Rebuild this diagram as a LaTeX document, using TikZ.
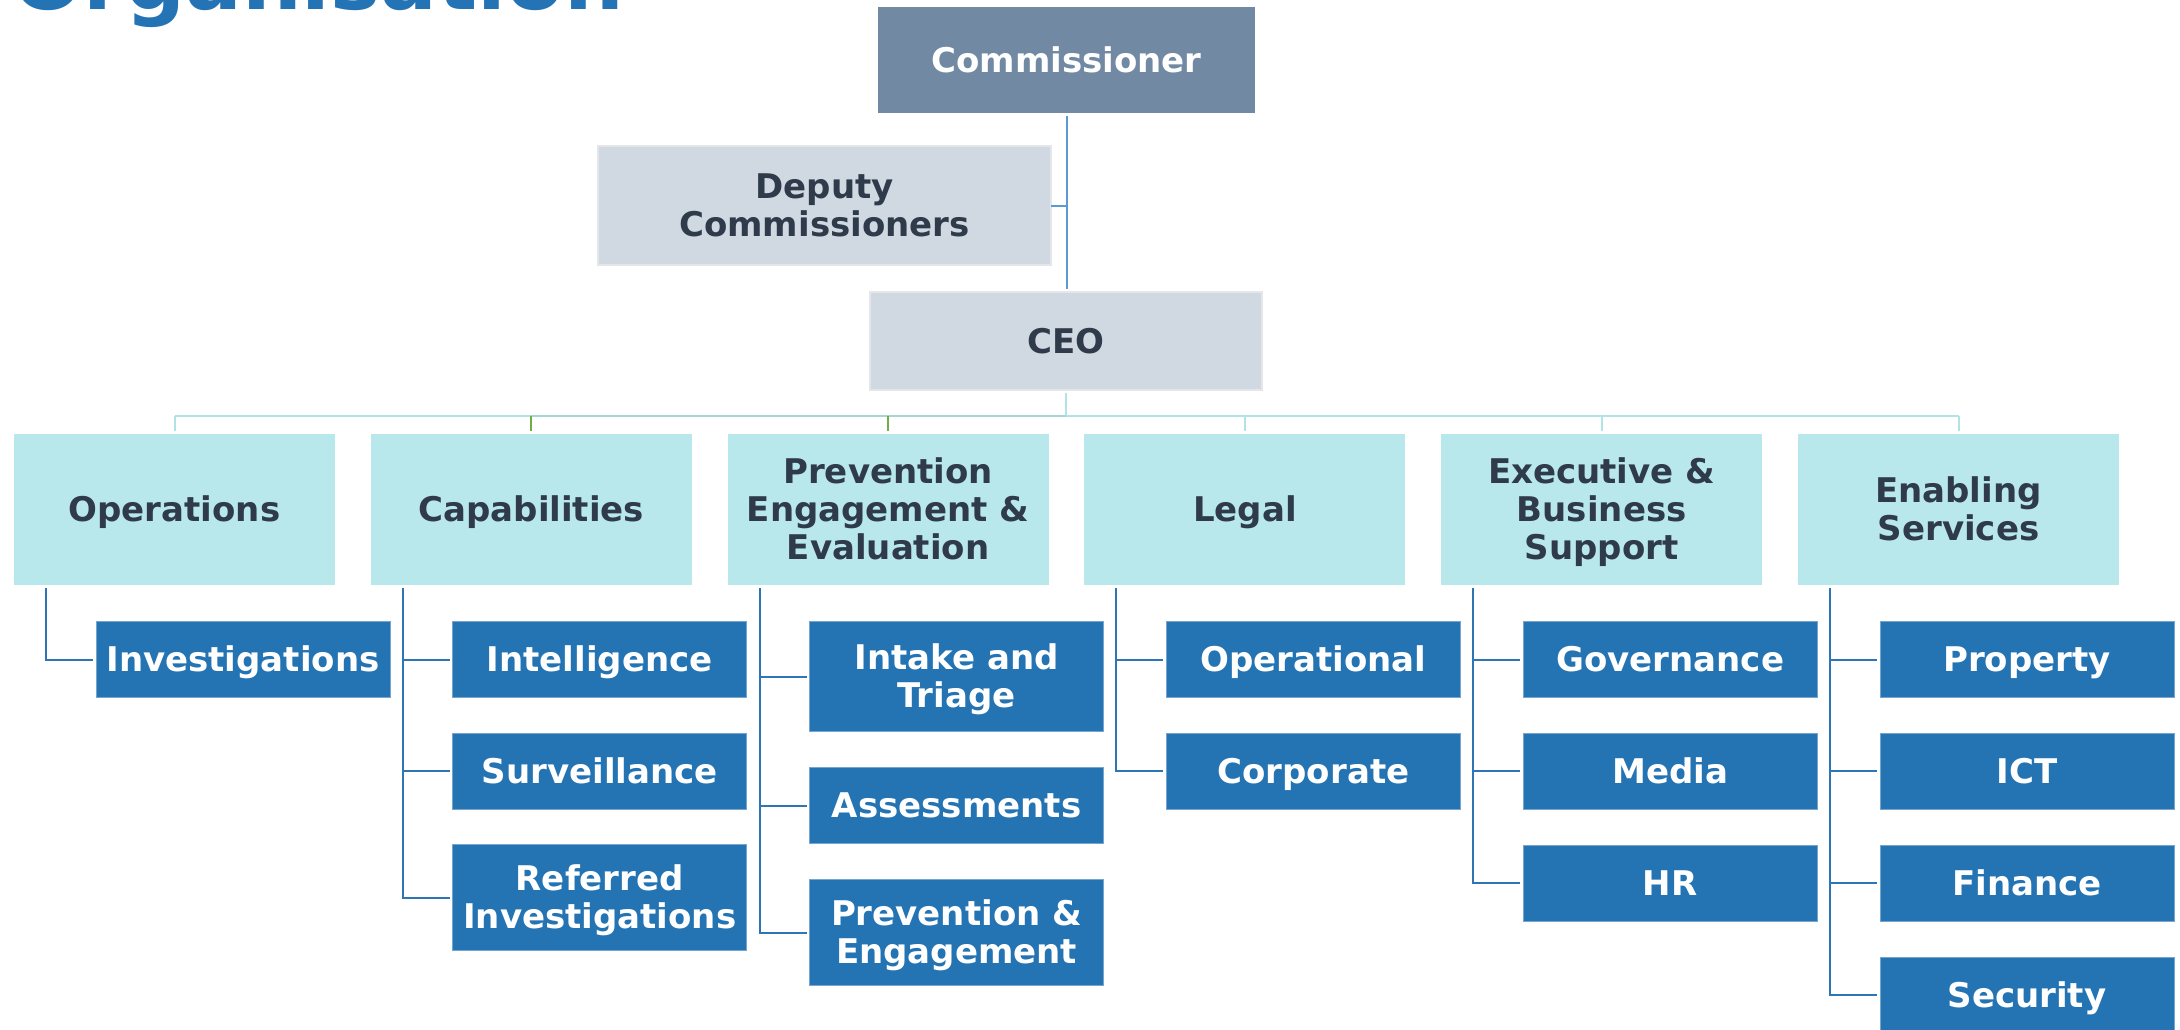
\documentclass[tikz,border=0pt]{standalone}
\usepackage{fontspec}
\setmainfont{DejaVu Sans}
\usetikzlibrary{calc}
\definecolor{commfill}{RGB}{113,137,163}
\definecolor{greyfill}{RGB}{208,216,226}
\definecolor{greyedge}{RGB}{228,230,234}
\definecolor{lvtwo}{RGB}{185,232,236}
\definecolor{lvthree}{RGB}{36,116,180}
\definecolor{lvthreeedge}{RGB}{120,165,205}
\definecolor{textdark}{RGB}{47,58,74}
\definecolor{topblue}{RGB}{91,155,213}
\definecolor{connblue}{RGB}{46,117,182}
\definecolor{cyanline}{RGB}{176,226,230}
\definecolor{tealline}{RGB}{165,214,210}
\definecolor{tickgreen}{RGB}{112,173,71}
\definecolor{titleblue}{RGB}{36,116,181}
\begin{document}
\begin{tikzpicture}[x=0.5pt,y=-0.5pt,
  boxtext/.style={font=\bfseries\fontsize{17pt}{19pt}\selectfont, align=center, inner sep=0pt, outer sep=0pt, anchor=north west, text height=14pt, text depth=1.6pt},
  twolines/.style={text height=33pt},
  threelines/.style={text height=52pt},
  commbox/.style={boxtext, fill=commfill, text=white, minimum width=188.5pt, minimum height=53pt},
  greybox/.style={boxtext, fill=greyfill, draw=greyedge, line width=1pt, text=textdark},
  lvtwobox/.style={boxtext, fill=lvtwo, text=textdark, minimum width=160.5pt, minimum height=75.5pt},
  lvthreebox/.style={boxtext, fill=lvthree, draw=lvthreeedge, line width=0.4pt, text=white, minimum width=147pt, minimum height=38pt},
  dbl/.style={minimum height=#1},
  topline/.style={draw=topblue, line width=1pt},
  busline/.style={draw=cyanline, line width=1.3pt},
  tealseg/.style={draw=tealline, line width=1.3pt},
  greentick/.style={draw=tickgreen, line width=1pt},
  cyantick/.style={draw=cyanline, line width=1pt},
  conn/.style={draw=connblue, line width=1pt, shorten >=1.5pt}
]
\useasboundingbox (0,0) rectangle (2180,1029);
\clip (0,0) rectangle (2180,1029);
\fill[white] (0,0) rectangle (2180,1029);

% title (cut off at the top)
\node[anchor=base west, inner sep=0pt, text=titleblue, font=\bfseries\fontsize{42pt}{46pt}\selectfont] (title) at (12,9.5) {Organisation};

% top levels
\node[commbox] (comm) at (878,7) {Commissioner};
\node[greybox, twolines, minimum width=226.5pt, minimum height=59.5pt] (dep) at (598,146) {Deputy\\Commissioners};
\node[greybox, minimum width=196pt, minimum height=49pt] (ceo) at (870,292) {CEO};

% level 2
\node[lvtwobox] (ops) at (14,434) {Operations};
\node[lvtwobox] (cap) at (370.8,434) {Capabilities};
\node[lvtwobox, threelines] (pee) at (727.6,434) {Prevention\\Engagement \&\\Evaluation};
\node[lvtwobox] (leg) at (1084.4,434) {Legal};
\node[lvtwobox, threelines] (exe) at (1441.2,434) {Executive \&\\Business\\Support};
\node[lvtwobox, twolines] (ens) at (1798,434) {Enabling\\Services};

% level 3
\node[lvthreebox] (inv) at (96,621.5) {Investigations};

\node[lvthreebox] (int) at (452.8,621.5) {Intelligence};
\node[lvthreebox] (sur) at (452.8,733) {Surveillance};
\node[lvthreebox, twolines, dbl=53pt] (ref) at (452.8,844.5) {Referred\\Investigations};

\node[lvthreebox, twolines, dbl=55pt] (itr) at (809.6,621.5) {Intake and\\Triage};
\node[lvthreebox] (ass) at (809.6,767.5) {Assessments};
\node[lvthreebox, twolines, dbl=53pt] (pen) at (809.6,879.5) {Prevention \&\\Engagement};

\node[lvthreebox] (opl) at (1166.4,621.5) {Operational};
\node[lvthreebox] (cor) at (1166.4,733) {Corporate};

\node[lvthreebox] (gov) at (1523.2,621.5) {Governance};
\node[lvthreebox] (med) at (1523.2,733) {Media};
\node[lvthreebox] (hr)  at (1523.2,845) {HR};

\node[lvthreebox] (pro) at (1880,621.5) {Property};
\node[lvthreebox] (ict) at (1880,733) {ICT};
\node[lvthreebox] (fin) at (1880,845) {Finance};
\node[lvthreebox] (sec) at (1880,957) {Security};

% top connectors
\draw[topline, shorten <=1.5pt, shorten >=1.5pt] (comm.south) -- (comm.south |- ceo.north);
\draw[topline] (dep.east) -- (dep.east -| comm.south);

% bus from CEO to level 2
\coordinate (hub) at ($(ceo.south)+(0,26)$);
\draw[busline, shorten <=1.5pt] (ceo.south) -- (hub);
\draw[busline] (ops.north |- hub) -- (ens.north |- hub);
\draw[tealseg] (cap.north |- hub) -- (hub);
\draw[cyantick, shorten >=1.5pt] (ops.north |- hub) -- (ops.north);
\draw[greentick, shorten >=1.5pt] (cap.north |- hub) -- (cap.north);
\draw[greentick, shorten >=1.5pt] (pee.north |- hub) -- (pee.north);
\draw[cyantick, shorten >=1.5pt] (leg.north |- hub) -- (leg.north);
\draw[cyantick, shorten >=1.5pt] (exe.north |- hub) -- (exe.north);
\draw[cyantick, shorten >=1.5pt] (ens.north |- hub) -- (ens.north);

% level 3 connectors
\coordinate (opsv) at ($(ops.south west)+(32,3)$);
\coordinate (capv) at ($(cap.south west)+(32,3)$);
\coordinate (peev) at ($(pee.south west)+(32,3)$);
\coordinate (legv) at ($(leg.south west)+(32,3)$);
\coordinate (exev) at ($(exe.south west)+(32,3)$);
\coordinate (ensv) at ($(ens.south west)+(32,3)$);

\draw[conn] (opsv) |- (inv.west);

\draw[conn] (capv) |- (ref.west);
\draw[conn] (capv |- int.west) -- (int.west);
\draw[conn] (capv |- sur.west) -- (sur.west);

\draw[conn] (peev) |- (pen.west);
\draw[conn] (peev |- itr.west) -- (itr.west);
\draw[conn] (peev |- ass.west) -- (ass.west);

\draw[conn] (legv) |- (cor.west);
\draw[conn] (legv |- opl.west) -- (opl.west);

\draw[conn] (exev) |- (hr.west);
\draw[conn] (exev |- gov.west) -- (gov.west);
\draw[conn] (exev |- med.west) -- (med.west);

\draw[conn] (ensv) |- (sec.west);
\draw[conn] (ensv |- pro.west) -- (pro.west);
\draw[conn] (ensv |- ict.west) -- (ict.west);
\draw[conn] (ensv |- fin.west) -- (fin.west);
\end{tikzpicture}
\end{document}
